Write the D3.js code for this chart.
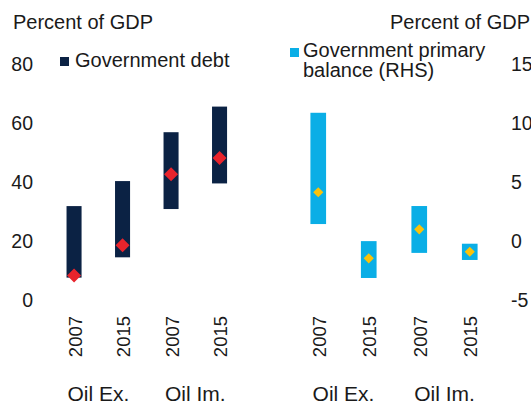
<!DOCTYPE html>
<html>
<head>
<meta charset="utf-8">
<script src="https://cdn.jsdelivr.net/npm/d3@7"></script>
<style>
  html, body { margin: 0; padding: 0; background: #fff; }
  svg { display: block; font-family: "Liberation Sans", Arial, sans-serif; }
</style>
</head>
<body>
<svg id="chart" width="531" height="405"></svg>
<script>
// ---- data ----
const years = ["2007", "2015", "2007", "2015"];
const groups = ["Oil Ex.", "Oil Im."];
const debtMin  = [7.6, 14.5, 30.9, 39.6];
const debtMax  = [31.9, 40.4, 57.0, 65.7];
const debtMid  = [8.3, 18.6, 42.7, 48.2];
const balMin   = [1.45, -3.13, -1.0, -1.6];
const balMax   = [10.9, 0.0, 2.98, -0.22];
const balMid   = [4.15, -1.46, 1.0, -0.9];
const leftTicks  = [0, 20, 40, 60, 80];
const rightTicks = [-5, 0, 5, 10, 15];

const svg = d3.select("#chart");
const ink = "#1a1a1a";
const navy = "#0b2244", red = "#e8242c", blue = "#0aaee6", gold = "#fac20a";

const yL = d3.scaleLinear().domain([0, 80]).range([300, 64.5]);
const yR = d3.scaleLinear().domain([-5, 15]).range([300, 64.5]);
const idx = d3.range(4);
const xL = d3.scaleBand().domain(idx).range([49.8, 243.8]).paddingInner(0.69).paddingOuter(0.345);
const xR = d3.scaleBand().domain(idx).range([293, 495]).paddingInner(0.69).paddingOuter(0.345);

// titles
svg.append("text").attr("x", 13).attr("y", 29).attr("font-size", 20).attr("fill", ink).text("Percent of GDP");
svg.append("text").attr("x", 390).attr("y", 29).attr("font-size", 20).attr("fill", ink).text("Percent of GDP");

// left axis
const axL = svg.append("g").attr("transform", "translate(33,0)")
  .call(d3.axisLeft(yL).tickValues(leftTicks).tickSize(0).tickPadding(0).tickFormat(d3.format("d")));
axL.select(".domain").remove();
axL.selectAll("text").attr("font-size", 19.5).attr("fill", ink).attr("font-family", "Liberation Sans, Arial, sans-serif");

// right axis
const axR = svg.append("g").attr("transform", "translate(511,0)")
  .call(d3.axisRight(yR).tickValues(rightTicks).tickSize(0).tickPadding(0).tickFormat(d => d < 0 ? "-" + Math.abs(d) : String(d)));
axR.select(".domain").remove();
axR.selectAll("text").attr("font-size", 19.5).attr("fill", ink).attr("font-family", "Liberation Sans, Arial, sans-serif");

// legends
svg.append("rect").attr("x", 60).attr("y", 57).attr("width", 9).attr("height", 9).attr("fill", navy);
svg.append("text").attr("x", 75).attr("y", 67).attr("font-size", 20).attr("fill", ink).text("Government debt");
svg.append("rect").attr("x", 290).attr("y", 48).attr("width", 9).attr("height", 9).attr("fill", blue);
svg.append("text").attr("x", 303).attr("y", 57).attr("font-size", 20).attr("fill", ink).text("Government primary");
svg.append("text").attr("x", 303).attr("y", 77).attr("font-size", 20).attr("fill", ink).text("balance (RHS)");

// debt bars
svg.append("g").selectAll("rect").data(idx).join("rect")
  .attr("x", i => xL(i)).attr("width", xL.bandwidth())
  .attr("y", i => yL(debtMax[i])).attr("height", i => yL(debtMin[i]) - yL(debtMax[i]))
  .attr("fill", navy);
svg.append("g").selectAll("path").data(idx).join("path")
  .attr("d", d3.symbol(d3.symbolDiamond2, 125))
  .attr("transform", i => `translate(${xL(i) + xL.bandwidth() / 2},${yL(debtMid[i])})`)
  .attr("fill", red);

// balance bars
svg.append("g").selectAll("rect").data(idx).join("rect")
  .attr("x", i => xR(i)).attr("width", xR.bandwidth())
  .attr("y", i => yR(balMax[i])).attr("height", i => yR(balMin[i]) - yR(balMax[i]))
  .attr("fill", blue);
svg.append("g").selectAll("path").data(idx).join("path")
  .attr("d", d3.symbol(d3.symbolDiamond2, 66))
  .attr("transform", i => `translate(${xR(i) + xR.bandwidth() / 2},${yR(balMid[i])})`)
  .attr("fill", gold);

// year labels
[xL, xR].forEach(xs => {
  svg.append("g").selectAll("text").data(idx).join("text")
    .attr("transform", i => `translate(${xs(i) + xs.bandwidth() / 2 + 1},316) rotate(-90)`)
    .attr("text-anchor", "end").attr("dy", "0.36em")
    .attr("font-size", 18.5).attr("fill", ink)
    .text(i => years[i]);
  svg.append("g").selectAll("text").data([0, 1]).join("text")
    .attr("x", g => (xs(g * 2) + xs(g * 2 + 1) + xs.bandwidth()) / 2)
    .attr("y", 401).attr("text-anchor", "middle")
    .attr("font-size", 21).attr("fill", ink)
    .text(g => groups[g]);
});
</script>
</body>
</html>
